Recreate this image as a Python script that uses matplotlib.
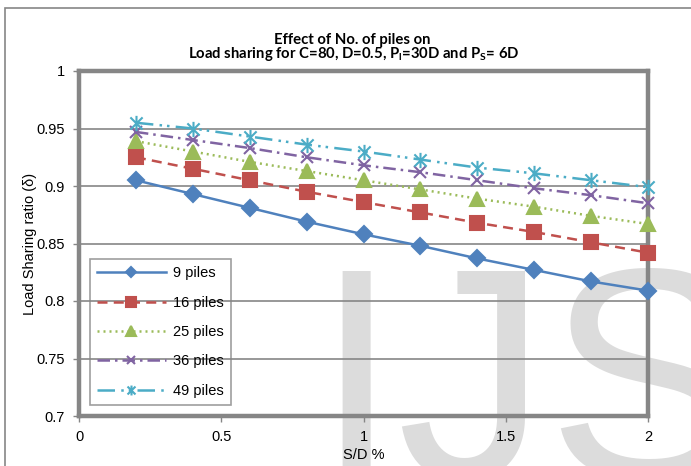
import matplotlib
matplotlib.use('Agg')
import matplotlib.pyplot as plt
import numpy as np
from matplotlib.path import Path
from matplotlib.patches import Rectangle

plt.rcParams['font.family'] = ['Liberation Sans', 'DejaVu Sans']
plt.rcParams['mathtext.fontset'] = 'custom'
plt.rcParams['mathtext.rm'] = 'Lato:bold'
plt.rcParams['mathtext.default'] = 'rm'

# S/D ratio and load sharing ratio for each pile group
sd = [0.2, 0.4, 0.6, 0.8, 1.0, 1.2, 1.4, 1.6, 1.8, 2.0]
piles_9 = [0.905, 0.893, 0.881, 0.869, 0.858, 0.848, 0.837, 0.827, 0.817, 0.809]
piles_16 = [0.925, 0.915, 0.905, 0.895, 0.886, 0.877, 0.868, 0.860, 0.851, 0.842]
piles_25 = [0.939, 0.930, 0.921, 0.913, 0.905, 0.897, 0.889, 0.882, 0.874, 0.867]
piles_36 = [0.947, 0.940, 0.933, 0.925, 0.918, 0.912, 0.905, 0.898, 0.892, 0.885]
piles_49 = [0.955, 0.950, 0.943, 0.936, 0.930, 0.923, 0.916, 0.911, 0.905, 0.899]
labels = ['9 piles', '16 piles', '25 piles', '36 piles', '49 piles']

# excel style star marker: an x with a vertical bar through it
star = Path([(-1, -1), (1, 1), (-1, 1), (1, -1), (0, -1.25), (0, 1.25)],
            [Path.MOVETO, Path.LINETO, Path.MOVETO, Path.LINETO, Path.MOVETO, Path.LINETO])

series = [piles_9, piles_16, piles_25, piles_36, piles_49]
colours = ['#4F81BD', '#C0504D', '#9BBB59', '#8064A2', '#4BACC6']
styles = ['-', (0, (4, 2.5)), (0, (0.8, 1.6)), (0, (5, 2, 1, 2)), (0, (7, 2.5, 1, 2, 1, 2.5))]
markers = ['D', 's', '^', 'x', star]
msizes = [8, 10, 10, 9, 11]

fig = plt.figure(figsize=(6.91, 4.66), dpi=100)
ax = fig.add_axes([79/691, 1-416/466, (648-79)/691, (416-71)/466])
ax.patch.set_alpha(0)

# watermark letters behind everything
fig.text(314/691, -0.025, 'IJS', fontsize=216, color='#DCDCDC', zorder=-5,
         ha='left', va='baseline', family='Liberation Sans')

# outer chart border
fig.add_artist(Rectangle((5/691, -0.5), 2, 0.5 + 1 - 8/466, transform=fig.transFigure,
                         fill=False, edgecolor='#868686', linewidth=1.2, zorder=-4))

for y, c, ls, m, ms, lab in zip(series, colours, styles, markers, msizes, labels):
    ax.plot(sd, y, color=c, linestyle=ls, linewidth=1.8, marker=m, markersize=ms,
            markerfacecolor=c, markeredgecolor=c, markeredgewidth=1.5, label=lab,
            clip_on=False, zorder=3)

ax.set_xlim(0, 2)
ax.set_ylim(0.7, 1.0)
ax.set_xticks([0, 0.5, 1, 1.5, 2])
ax.set_xticklabels(['0', '0.5', '1', '1.5', '2'])
ax.set_yticks([0.7, 0.75, 0.8, 0.85, 0.9, 0.95, 1])
ax.set_yticklabels(['0.7', '0.75', '0.8', '0.85', '0.9', '0.95', '1'])
ax.yaxis.grid(True, color='#868686', linewidth=1.2)
ax.set_axisbelow(True)
ax.tick_params(labelsize=10.5, length=4, width=1, color='#868686', pad=6)

#axis formatting
for s in ax.spines.values():
    s.set_color('#868686')
    s.set_linewidth(3.2)
    s.set_zorder(2.5)

ax.set_xlabel('S/D %', fontsize=10.5, labelpad=3)
ax.set_ylabel('Load Sharing ratio (\u03b4)', fontsize=10.5, labelpad=0)

fig.text(352/691, 1-40/466, 'Effect of No. of piles on', ha='center', va='center',
         family='Lato', fontweight='bold', fontsize=10.7)
fig.text(354/691, 1-54/466, 'Load sharing for C=80, D=0.5, P$_l$=30D and P$_S$= 6D',
         ha='center', va='center', family='Lato', fontweight='bold', fontsize=10.7)

leg = ax.legend(loc='lower left', bbox_to_anchor=(0.019, 0.032), borderaxespad=0,
                fontsize=10.5, handlelength=4.7, handletextpad=0.5, labelspacing=1.05,
                borderpad=0.5, fancybox=False, edgecolor='#868686', markerscale=0.65)
leg.get_frame().set_facecolor('none')
leg.get_frame().set_linewidth(1.2)

plt.savefig('out.png', dpi=100)
